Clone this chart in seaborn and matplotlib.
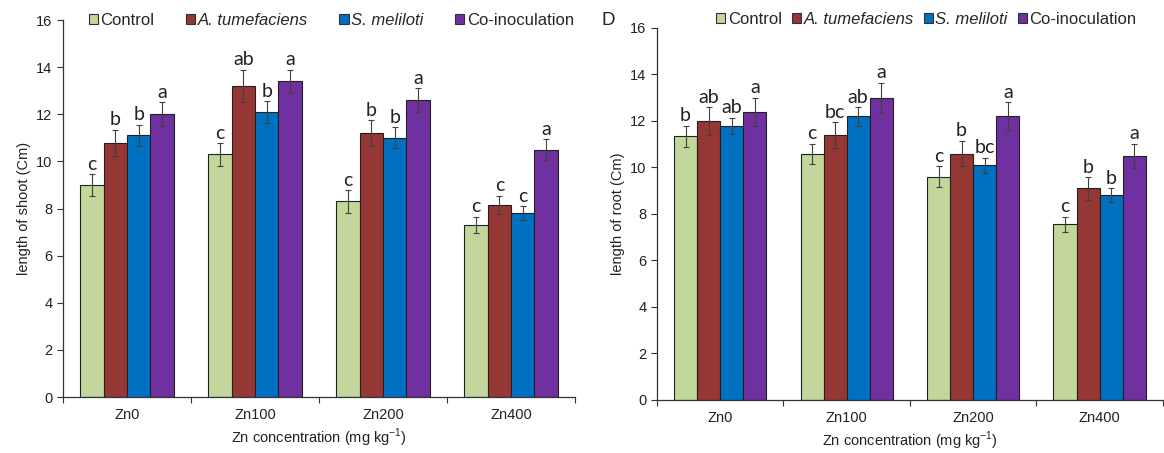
import matplotlib
matplotlib.use('Agg')
from matplotlib import pyplot as plt
from matplotlib.patches import Patch
from matplotlib.ticker import FixedLocator
import seaborn as sns
import pandas as pd

zn_levels = ['Zn0', 'Zn100', 'Zn200', 'Zn400']
treatments = ['Control', 'A. tumefaciens', 'S. meliloti', 'Co-inoculation']
colors = ['#C3D69B', '#953735', '#0070C0', '#7030A0']

# shoot length (left panel)
shoot_control = [9.0, 10.3, 8.3, 7.3]
shoot_atum = [10.8, 13.2, 11.2, 8.15]
shoot_smel = [11.1, 12.1, 11.0, 7.8]
shoot_coin = [12.0, 13.4, 12.6, 10.5]
shoot_err_control = [0.45, 0.48, 0.47, 0.35]
shoot_err_atum = [0.55, 0.7, 0.55, 0.4]
shoot_err_smel = [0.45, 0.45, 0.45, 0.3]
shoot_err_coin = [0.5, 0.5, 0.5, 0.45]
shoot_letters_control = ['c', 'c', 'c', 'c']
shoot_letters_atum = ['b', 'ab', 'b', 'c']
shoot_letters_smel = ['b', 'b', 'b', 'c']
shoot_letters_coin = ['a', 'a', 'a', 'a']

# root length (right panel)
root_control = [11.35, 10.6, 9.6, 7.55]
root_atum = [12.0, 11.4, 10.6, 9.1]
root_smel = [11.8, 12.2, 10.1, 8.8]
root_coin = [12.4, 13.0, 12.2, 10.5]
root_err_control = [0.45, 0.43, 0.45, 0.33]
root_err_atum = [0.6, 0.55, 0.55, 0.48]
root_err_smel = [0.35, 0.4, 0.32, 0.3]
root_err_coin = [0.6, 0.65, 0.6, 0.53]
root_letters_control = ['b', 'c', 'c', 'c']
root_letters_atum = ['ab', 'bc', 'b', 'b']
root_letters_smel = ['ab', 'ab', 'bc', 'b']
root_letters_coin = ['a', 'a', 'a', 'a']

sns.set_style('white')
plt.rcParams['font.family'] = ['Liberation Sans', 'DejaVu Sans']
plt.rcParams['mathtext.fontset'] = 'custom'
plt.rcParams['mathtext.rm'] = 'Liberation Sans'


def make_df(vals):
    rows = []
    for t, v in zip(treatments, vals):
        for z, y in zip(zn_levels, v):
            rows.append({'zn': z, 'treatment': t, 'value': y})
    return pd.DataFrame(rows)


def draw_panel(ax, vals, errs, letters, ylabel, legend_x, legend_y, colspace):
    df = make_df(vals)
    sns.barplot(data=df, x='zn', y='value', hue='treatment', order=zn_levels,
                hue_order=treatments, palette=colors, width=0.73, errorbar=None,
                edgecolor='#202020', linewidth=0.8, saturation=1, ax=ax, legend=False)
    for cont, e_list, l_list in zip(ax.containers, errs, letters):
        for bar, e, lab in zip(cont, e_list, l_list):
            x = bar.get_x() + bar.get_width() / 2
            h = bar.get_height()
            ax.errorbar(x, h, yerr=e, color='#404040', lw=0.8, capsize=2.5,
                        capthick=0.8, zorder=5)
            ax.text(x, h + e + 0.06, lab, ha='center', va='bottom', fontsize=14,
                    family=['Lato', 'DejaVu Sans'], color='#222222')
    ax.set_ylim(0, 16)
    ax.set_xlim(-0.5, 3.5)
    ax.set_yticks(range(0, 17, 2))
    ax.tick_params(axis='y', which='major', direction='out', length=4, width=0.8,
                   left=True, labelsize=10.5, colors='#333333', labelcolor='#222222')
    ax.tick_params(axis='x', which='major', length=0, labelsize=10.5, pad=8,
                   labelcolor='#222222')
    ax.xaxis.set_minor_locator(FixedLocator([-0.5, 0.5, 1.5, 2.5, 3.5]))
    ax.tick_params(axis='x', which='minor', direction='out', length=4, width=0.8,
                   bottom=True, colors='#333333')
    for s in ['top', 'right']:
        ax.spines[s].set_visible(False)
    for s in ['left', 'bottom']:
        ax.spines[s].set_color('#333333')
        ax.spines[s].set_linewidth(0.9)
    ax.set_xlabel(r'Zn concentration (mg kg$^{\mathregular{-1}}$)', fontsize=10.5,
                  labelpad=3, color='#222222')
    ax.set_ylabel(ylabel, fontsize=10.5, color='#222222')
    handles = [Patch(facecolor=c, edgecolor='#303030', linewidth=0.8) for c in colors]
    leg = ax.legend(handles, treatments, ncol=4, loc='center left',
                    bbox_to_anchor=(legend_x, legend_y), frameon=False, fontsize=12,
                    handlelength=0.55, handleheight=0.55, handletextpad=0.15,
                    columnspacing=colspace, borderpad=0, borderaxespad=0)
    for txt in leg.get_texts()[1:3]:
        txt.set_fontstyle('italic')


fig = plt.figure(figsize=(11.64, 4.53), dpi=100)
ax1 = fig.add_axes([0.0541, 0.1236, 0.4399, 0.8322])
ax2 = fig.add_axes([0.5644, 0.1170, 0.4346, 0.8212])

draw_panel(ax1, [shoot_control, shoot_atum, shoot_smel, shoot_coin],
           [shoot_err_control, shoot_err_atum, shoot_err_smel, shoot_err_coin],
           [shoot_letters_control, shoot_letters_atum, shoot_letters_smel, shoot_letters_coin],
           'length of shoot (Cm)', 0.05, 1.0, 1.9)
draw_panel(ax2, [root_control, root_atum, root_smel, root_coin],
           [root_err_control, root_err_atum, root_err_smel, root_err_coin],
           [root_letters_control, root_letters_atum, root_letters_smel, root_letters_coin],
           'length of root (Cm)', 0.117, 1.022, 0.6)

fig.text(0.5165, 0.955, 'D', fontsize=13.5, ha='left', va='center', color='#222222')

plt.savefig('out.png', dpi=100)
